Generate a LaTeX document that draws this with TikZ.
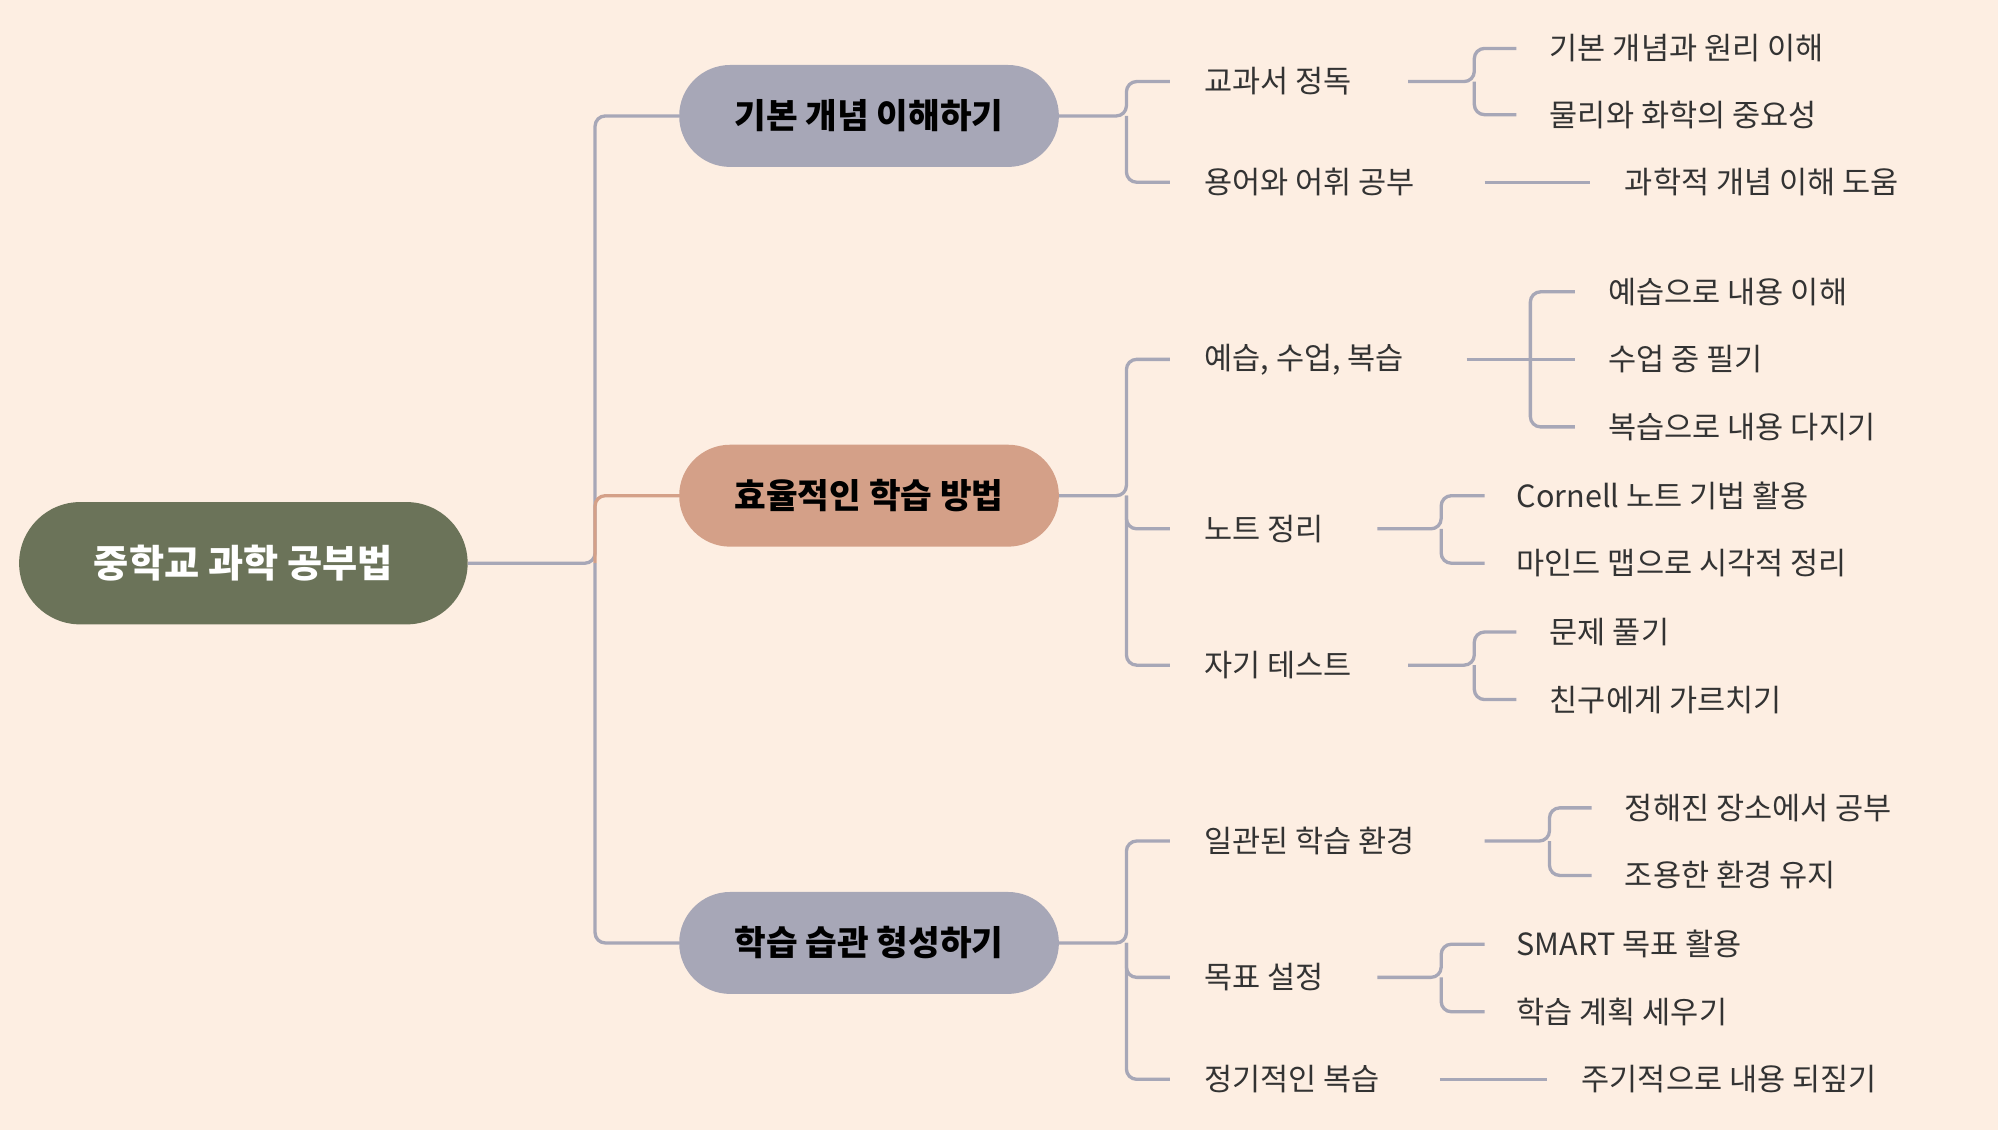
\documentclass[tikz,border=0pt]{standalone}
\usepackage{fontspec}
\setmainfont{Noto Sans CJK KR}
\begin{document}
\begin{tikzpicture}[x=1pt,y=-1pt,
  ln/.style={draw=lineg,line width=2.6pt,rounded corners=8pt},
  lv1/.style={rounded corners=40pt,minimum width=298pt,minimum height=80pt,font=\fontsize{27}{30}\selectfont\bfseries,inner sep=0pt},
  leaf/.style={anchor=west,font=\fontsize{24}{28}\selectfont,inner sep=0pt,text=black!80}]
\definecolor{bgc}{HTML}{FDEEE2}
\definecolor{lineg}{HTML}{A7A7B7}
\definecolor{orng}{HTML}{D4A088}
\definecolor{rootc}{HTML}{6B7359}
\fill[bgc] (0,0) rectangle (1568,887);
\useasboundingbox (0,0) rectangle (1568,887);
\node[rounded corners=48pt,fill=rootc,minimum width=352pt,minimum height=96pt,text=white,font=\fontsize{30}{34}\selectfont\bfseries] (root) at (191,442) {중학교 과학 공부법};
\node[lv1,fill=lineg] (a) at (682,91) {기본 개념 이해하기};
\node[lv1,fill=orng] (b) at (682,389) {효율적인 학습 방법};
\node[lv1,fill=lineg] (c) at (682,740) {학습 습관 형성하기};
\draw[ln] (root.east) -- (467,442) |- (a.west);
\draw[ln] (467,442) |- (c.west);
\draw[ln,draw=orng] (467,442) |- (b.west);
% level2
\node[leaf] (a1) at (945,64) {교과서 정독};
\node[leaf] (a2) at (945,143) {용어와 어휘 공부};
\node[leaf] (b1) at (945,282) {예습, 수업, 복습};
\node[leaf] (b2) at (945,415) {노트 정리};
\node[leaf] (b3) at (945,522) {자기 테스트};
\node[leaf] (c1) at (945,660) {일관된 학습 환경};
\node[leaf] (c2) at (945,767) {목표 설정};
\node[leaf] (c3) at (945,847) {정기적인 복습};
\draw[ln] (a.east) -- (884,91) |- ([xshift=-27pt]a1.west);
\draw[ln] (884,91) |- ([xshift=-27pt]a2.west);
\draw[ln] (b.east) -- (884,389) |- ([xshift=-27pt]b1.west);
\draw[ln] (884,389) |- ([xshift=-27pt]b2.west);
\draw[ln] (884,389) |- ([xshift=-27pt]b3.west);
\draw[ln] (c.east) -- (884,740) |- ([xshift=-27pt]c1.west);
\draw[ln] (884,740) |- ([xshift=-27pt]c2.west);
\draw[ln] (884,740) |- ([xshift=-27pt]c3.west);
% leaves
\node[leaf] (a11) at (1216,38) {기본 개념과 원리 이해};
\node[leaf] (a12) at (1216,90) {물리와 화학의 중요성};
\node[leaf] (a21) at (1275,143) {과학적 개념 이해 도움};
\draw[ln] (1105,64) -- (1157,64) |- ([xshift=-26pt]a11.west);
\draw[ln] (1157,64) |- ([xshift=-26pt]a12.west);
\draw[ln] (1165,143) -- ([xshift=-27pt]a21.west);
\node[leaf] (b11) at (1262,229) {예습으로 내용 이해};
\node[leaf] (b12) at (1262,282) {수업 중 필기};
\node[leaf] (b13) at (1262,335) {복습으로 내용 다지기};
\draw[ln] (1151,282) -- ([xshift=-26pt]b12.west);
\draw[ln] (1201,282) |- ([xshift=-26pt]b11.west);
\draw[ln] (1201,282) |- ([xshift=-26pt]b13.west);
\node[leaf] (b21) at (1190,389) {Cornell 노트 기법 활용};
\node[leaf] (b22) at (1190,442) {마인드 맵으로 시각적 정리};
\draw[ln] (1081,415) -- (1131,415) |- ([xshift=-25pt]b21.west);
\draw[ln] (1131,415) |- ([xshift=-25pt]b22.west);
\node[leaf] (b31) at (1216,496) {문제 풀기};
\node[leaf] (b32) at (1216,549) {친구에게 가르치기};
\draw[ln] (1105,522) -- (1157,522) |- ([xshift=-26pt]b31.west);
\draw[ln] (1157,522) |- ([xshift=-26pt]b32.west);
\node[leaf] (c11) at (1275,634) {정해진 장소에서 공부};
\node[leaf] (c12) at (1275,687) {조용한 환경 유지};
\draw[ln] (1165,660) -- (1216,660) |- ([xshift=-26pt]c11.west);
\draw[ln] (1216,660) |- ([xshift=-26pt]c12.west);
\node[leaf] (c21) at (1190,741) {SMART 목표 활용};
\node[leaf] (c22) at (1190,794) {학습 계획 세우기};
\draw[ln] (1081,767) -- (1131,767) |- ([xshift=-25pt]c21.west);
\draw[ln] (1131,767) |- ([xshift=-25pt]c22.west);
\node[leaf] (c31) at (1241,847) {주기적으로 내용 되짚기};
\draw[ln] (1130,847) -- ([xshift=-27pt]c31.west);
\end{tikzpicture}
\end{document}
